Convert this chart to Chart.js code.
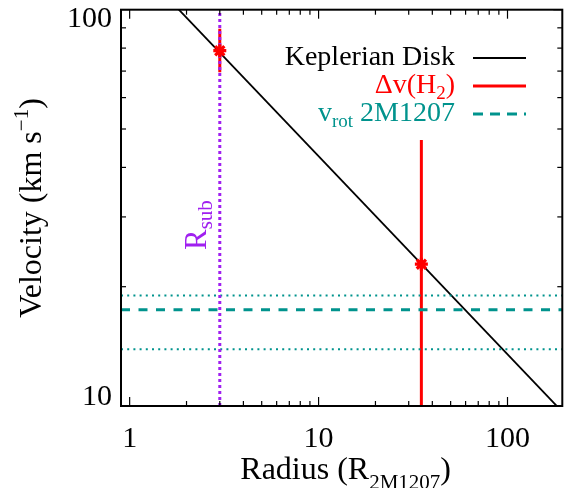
<!DOCTYPE html>
<html>
<head>
<meta charset="utf-8">
<script src="https://cdn.jsdelivr.net/npm/chart.js@4.4.1/dist/chart.umd.min.js"></script>
<style>
  html, body { margin: 0; padding: 0; background: #fff; }
</style>
</head>
<body>
<canvas id="velCanvas" width="572" height="488"></canvas>
<script>
// Keplerian disk: straight line in log-log, given by its two ends
const keplerRadius = [0.9, 195];
const keplerVelocity = [142.3, 9.67];

// H2 line width points with their error bars
const h2Radius = [3.0, 35.0];
const h2Velocity = [78.8, 22.8];
const h2Upper = [89.5, 46.9];
const h2Lower = [69.5, 5.0];

// dust sublimation radius
const rsubRadius = 3.0;

// rotation velocity of 2M1207 and its range
const vrotValue = 17.5;
const vrotRange = [19.0, 13.9];

const xLimits = [0.9, 195];
const yLimits = [10, 100];

const xMajorTicks = [1, 10, 100];
const xMajorLabels = ['1', '10', '100'];
const xMinorTicks = [2, 3, 4, 5, 6, 7, 8, 9, 20, 30, 40, 50, 60, 70, 80, 90];
const yMajorTicks = [10, 100];
const yMajorLabels = ['10', '100'];
const yMinorTicks = [20, 30, 40, 50, 60, 70, 80, 90];

const RED = '#ff0000';
const TEAL = '#00938d';
const PURPLE = '#a020f0';
const FONT = '"Liberation Serif", "DejaVu Serif", serif';

function hline(v) {
  return [{ x: xLimits[0], y: v }, { x: xLimits[1], y: v }];
}

const datasets = [];
// stars first so they sit on top
datasets.push({
  data: h2Radius.map((r, i) => ({ x: r, y: h2Velocity[i] })),
  showLine: false, pointStyle: 'star', pointRadius: 6.5,
  borderColor: RED, backgroundColor: RED, borderWidth: 3.2
});
datasets.push({
  data: [{ x: rsubRadius, y: yLimits[0] }, { x: rsubRadius, y: yLimits[1] }],
  showLine: true, borderColor: PURPLE, borderWidth: 3, borderDash: [3, 3], pointRadius: 0
});
vrotRange.forEach(v => datasets.push({
  data: hline(v), showLine: true, borderColor: TEAL, borderWidth: 2,
  borderDash: [2, 4.2], pointRadius: 0
}));
datasets.push({
  data: hline(vrotValue), showLine: true, borderColor: TEAL, borderWidth: 3,
  borderDash: [9, 8.5], pointRadius: 0
});
h2Radius.forEach((r, i) => datasets.push({
  data: [{ x: r, y: h2Lower[i] }, { x: r, y: h2Upper[i] }],
  showLine: true, borderColor: RED, borderWidth: 3, pointRadius: 0
}));
datasets.push({
  data: keplerRadius.map((r, i) => ({ x: r, y: keplerVelocity[i] })),
  showLine: true, borderColor: '#000', borderWidth: 1.8, pointRadius: 0
});

// draws a list of text pieces (normal / sub / super) from x,y
function richWidth(ctx, parts) {
  let w = 0;
  parts.forEach(p => { ctx.font = p.size + 'px ' + FONT; w += ctx.measureText(p.text).width; });
  return w;
}
function drawRich(ctx, parts, x, y, align) {
  let cx = x;
  const w = richWidth(ctx, parts);
  if (align === 'right') cx = x - w;
  if (align === 'center') cx = x - w / 2;
  ctx.textAlign = 'left';
  ctx.textBaseline = 'alphabetic';
  parts.forEach(p => {
    ctx.font = p.size + 'px ' + FONT;
    ctx.fillText(p.text, cx, y + (p.dy || 0));
    cx += ctx.measureText(p.text).width;
  });
}

const legendItems = [
  { parts: [{ text: 'Keplerian Disk', size: 28 }], color: '#000', dash: [], width: 2 },
  { parts: [{ text: '\u0394v(H', size: 28 }, { text: '2', size: 19, dy: 6 }, { text: ')', size: 28 }], color: RED, dash: [], width: 3 },
  { parts: [{ text: 'v', size: 28 }, { text: 'rot', size: 19, dy: 6 }, { text: ' 2M1207', size: 28 }], color: TEAL, dash: [10, 7], width: 3 }
];

const idlAxes = {
  id: 'idlAxes',
  afterDraw(chart) {
    const { ctx, chartArea: a } = chart;
    const xs = chart.scales.x, ys = chart.scales.y;
    ctx.save();
    ctx.strokeStyle = '#000';
    ctx.fillStyle = '#000';

    const seg = (x1, y1, x2, y2) => { ctx.beginPath(); ctx.moveTo(x1, y1); ctx.lineTo(x2, y2); ctx.stroke(); };

    ctx.lineWidth = 1.2;
    xMajorTicks.forEach(v => { const p = xs.getPixelForValue(v); seg(p, a.bottom, p, a.bottom - 9); seg(p, a.top, p, a.top + 9); });
    xMinorTicks.forEach(v => { const p = xs.getPixelForValue(v); seg(p, a.bottom, p, a.bottom - 5); seg(p, a.top, p, a.top + 5); });
    yMajorTicks.forEach(v => { const p = ys.getPixelForValue(v); seg(a.left, p, a.left + 9, p); seg(a.right, p, a.right - 9, p); });
    yMinorTicks.forEach(v => { const p = ys.getPixelForValue(v); seg(a.left, p, a.left + 5, p); seg(a.right, p, a.right - 5, p); });

    ctx.lineWidth = 2;
    ctx.strokeRect(a.left, a.top, a.right - a.left, a.bottom - a.top);

    // tick labels
    ctx.font = '30px ' + FONT;
    ctx.textAlign = 'center';
    ctx.textBaseline = 'alphabetic';
    xMajorTicks.forEach((v, i) => ctx.fillText(xMajorLabels[i], xs.getPixelForValue(v), a.bottom + 41));
    ctx.textAlign = 'right';
    ctx.textBaseline = 'middle';
    yMajorTicks.forEach((v, i) => {
      let p = ys.getPixelForValue(v);
      p = Math.min(Math.max(p, a.top + 9), a.bottom - 9);
      ctx.fillText(yMajorLabels[i], a.left - 9, p);
    });

    // axis titles
    drawRich(ctx, [{ text: 'Radius (R', size: 32 }, { text: '2M1207', size: 21, dy: 10 }, { text: ')', size: 32 }],
      (a.left + a.right) / 2 + 4, 479, 'center');
    ctx.save();
    ctx.translate(41, 208);
    ctx.rotate(-Math.PI / 2);
    drawRich(ctx, [{ text: 'Velocity (km s', size: 32 }, { text: '\u22121', size: 21, dy: -13 }, { text: ')', size: 32 }], 0, 0, 'center');
    ctx.restore();

    // R_sub label next to the dotted line
    ctx.save();
    ctx.fillStyle = PURPLE;
    ctx.translate(xs.getPixelForValue(rsubRadius) - 14, 250);
    ctx.rotate(-Math.PI / 2);
    drawRich(ctx, [{ text: 'R', size: 31 }, { text: 'sub', size: 21, dy: 6 }], 0, 0, 'left');
    ctx.restore();

    // legend: text right-aligned, sample line to the right
    legendItems.forEach((it, i) => {
      const base = 65 + i * 28;
      ctx.fillStyle = it.color;
      drawRich(ctx, it.parts, 455, base, 'right');
      ctx.strokeStyle = it.color;
      ctx.lineWidth = it.width;
      ctx.setLineDash(it.dash);
      seg(473, base - 7, 526, base - 7);
      ctx.setLineDash([]);
    });
    ctx.restore();
  }
};

new Chart(document.getElementById('velCanvas').getContext('2d'), {
  type: 'scatter',
  data: { datasets: datasets },
  options: {
    responsive: false,
    animation: false,
    layout: { padding: { left: 121, right: 4, top: 9.5, bottom: 82 } },
    plugins: { legend: { display: false }, tooltip: { enabled: false } },
    scales: {
      x: { type: 'logarithmic', min: xLimits[0], max: xLimits[1], display: false },
      y: { type: 'logarithmic', min: yLimits[0], max: yLimits[1], display: false }
    }
  },
  plugins: [idlAxes]
});
</script>
</body>
</html>
